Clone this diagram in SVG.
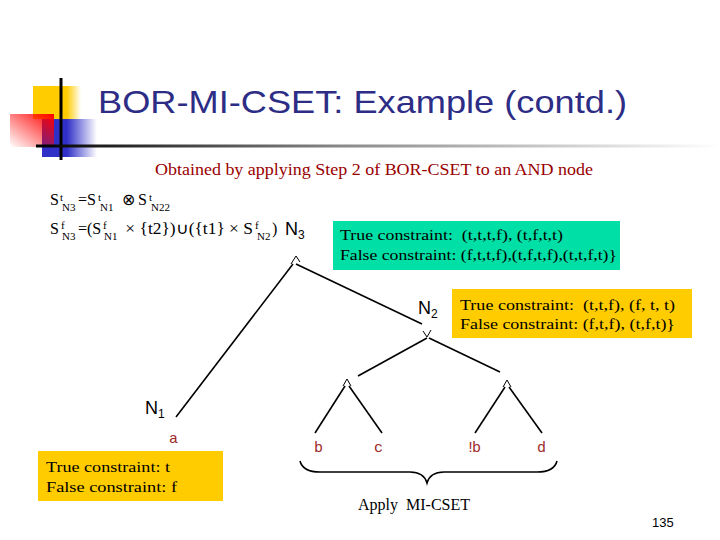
<svg xmlns="http://www.w3.org/2000/svg" width="720" height="540" viewBox="0 0 720 540">
<style>
.tm{font-family:"Liberation Serif","Times New Roman",serif;fill:#000}
.ar{font-family:"Liberation Sans",Arial,sans-serif;fill:#000}
.leaf{font-family:"Liberation Mono","Courier New",monospace;font-size:15px;fill:#9c2a2a}
.box{font-family:"Liberation Serif","Times New Roman",serif;font-size:15px;fill:#000}
.edge{stroke:#000;stroke-width:1.6;fill:none}
.caret{stroke:#000;stroke-width:1;fill:none}
</style>
<defs>
<linearGradient id="gy" x1="0" y1="0" x2="1" y2="0"><stop offset="0" stop-color="#ffcc00"/><stop offset="0.7" stop-color="#ffcc00"/><stop offset="1" stop-color="#ffcc00" stop-opacity="0"/></linearGradient>
<linearGradient id="gr" x1="1" y1="0" x2="0" y2="1"><stop offset="0" stop-color="#ff0000"/><stop offset="1" stop-color="#ff0000" stop-opacity="0"/></linearGradient>
<linearGradient id="gb" x1="0" y1="0" x2="1" y2="0"><stop offset="0" stop-color="#3030c8"/><stop offset="0.45" stop-color="#3030c8"/><stop offset="1" stop-color="#3030c8" stop-opacity="0"/></linearGradient>
<linearGradient id="gl" gradientUnits="userSpaceOnUse" x1="36" y1="0" x2="720" y2="0"><stop offset="0" stop-color="#000"/><stop offset="0.45" stop-color="#8a8a8a"/><stop offset="1" stop-color="#fff"/></linearGradient>
</defs>
<rect width="720" height="540" fill="#fff"/>
<g id="decoration">
<rect x="33" y="86" width="48" height="33" fill="url(#gy)"/>
<rect x="42" y="119" width="55" height="38" fill="url(#gb)"/>
<rect x="10" y="114" width="44" height="33" fill="url(#gr)"/>
<line x1="61" y1="78" x2="61" y2="160" stroke="#000" stroke-width="3"/>
<line x1="36" y1="146" x2="720" y2="146" stroke="url(#gl)" stroke-width="3"/>
</g>
<text x="98" y="113" font-family="'Liberation Sans',Arial,sans-serif" font-size="32" fill="#2d2d86" textLength="529" lengthAdjust="spacingAndGlyphs">BOR-MI-CSET: Example (contd.)</text>
<text x="155" y="175" class="tm" font-size="16" style="fill:#990000" textLength="438" lengthAdjust="spacingAndGlyphs">Obtained by applying Step 2 of BOR-CSET to an AND node</text>
<g id="formula1">
<text x="50" y="205" class="tm" font-size="16">S</text>
<text x="60" y="201" class="tm" font-size="11">t</text>
<text x="62" y="211" class="tm" font-size="11">N3</text>
<text x="78" y="205" class="tm" font-size="16">=S</text>
<text x="98" y="201" class="tm" font-size="11">t</text>
<text x="100" y="211" class="tm" font-size="11">N1</text>
<text x="122" y="205" class="tm" font-size="16">⊗</text>
<text x="138" y="205" class="tm" font-size="16">S</text>
<text x="149" y="201" class="tm" font-size="11">t</text>
<text x="151" y="211" class="tm" font-size="11">N22</text>
</g>
<g id="formula2">
<text x="50" y="234" class="tm" font-size="16">S</text>
<text x="61" y="229" class="tm" font-size="11">f</text>
<text x="62" y="240" class="tm" font-size="11">N3</text>
<text x="78" y="234" class="tm" font-size="16">=(S</text>
<text x="103" y="229" class="tm" font-size="11">f</text>
<text x="104" y="240" class="tm" font-size="11">N1</text>
<text x="121" y="234" class="tm" font-size="16" xml:space="preserve" textLength="132" lengthAdjust="spacingAndGlyphs"> × {t2})∪({t1} × S</text>
<text x="255" y="229" class="tm" font-size="11">f</text>
<text x="257" y="240" class="tm" font-size="11">N2</text>
<text x="272" y="234" class="tm" font-size="16">)</text>
</g>
<g id="connectors">
<line class="edge" x1="293" y1="264" x2="176" y2="417"/>
<line class="edge" x1="296" y1="264" x2="422" y2="324"/>
<line class="edge" x1="427" y1="338" x2="358" y2="376"/>
<line class="edge" x1="429" y1="338" x2="500" y2="372"/>
<line class="edge" x1="345" y1="386" x2="315" y2="433"/>
<line class="edge" x1="349" y1="386" x2="382" y2="433"/>
<line class="edge" x1="505" y1="387" x2="475" y2="433"/>
<line class="edge" x1="509" y1="387" x2="542" y2="433"/>
</g>
<g id="node-n3">
<polyline class="caret" points="291,264 296,256 300,262"/>
<text x="285" y="235" class="ar" font-size="18">N<tspan font-size="12" dy="4">3</tspan></text>
</g>
<g id="info-n3">
<rect x="333" y="221" width="287" height="49" fill="#00dfa5"/>
<text x="340" y="240" class="box" xml:space="preserve" textLength="223" lengthAdjust="spacingAndGlyphs">True constraint:  (t,t,t,f), (t,f,t,t)</text>
<text x="340" y="260" class="box" textLength="277" lengthAdjust="spacingAndGlyphs">False constraint: (f,t,t,f),(t,f,t,f),(t,t,f,t)}</text>
</g>
<g id="node-n2">
<polyline class="caret" points="423,331 427,337 431,330"/>
<text x="418" y="314" class="ar" font-size="18">N<tspan font-size="12" dy="4">2</tspan></text>
</g>
<g id="info-n2">
<rect x="452" y="289" width="240" height="49" fill="#ffcc00"/>
<text x="460" y="310" class="box" xml:space="preserve" textLength="215" lengthAdjust="spacingAndGlyphs">True constraint:  (t,t,f), (f, t, t)</text>
<text x="460" y="329" class="box" textLength="215" lengthAdjust="spacingAndGlyphs">False constraint: (f,t,f), (t,f,t)}</text>
</g>
<g id="node-and-left">
<polyline class="caret" points="343,386 347,379 351,386"/>
</g>
<g id="node-and-right">
<polyline class="caret" points="503,387 507,380 511,387"/>
</g>
<g id="node-n1">
<text x="145" y="414" class="ar" font-size="18">N<tspan font-size="12" dy="4">1</tspan></text>
<text x="169" y="443" class="leaf">a</text>
</g>
<g id="info-n1">
<rect x="38" y="451" width="185" height="50" fill="#ffcc00"/>
<text x="46" y="472" class="box" textLength="124" lengthAdjust="spacingAndGlyphs">True constraint: t</text>
<text x="46" y="492" class="box" textLength="131" lengthAdjust="spacingAndGlyphs">False constraint: f</text>
</g>
<g id="leaf-b"><text x="314" y="452" class="leaf">b</text></g>
<g id="leaf-c"><text x="374" y="452" class="leaf">c</text></g>
<g id="leaf-notb"><text x="466" y="452" class="leaf" letter-spacing="-3">!b</text></g>
<g id="leaf-d"><text x="537" y="452" class="leaf">d</text></g>
<g id="brace">
<path class="edge" d="M 300 461 C 302 469 310 472 320 472 L 410 472 C 420 472 425 476 427 483 C 429 476 434 472 444 472 L 537 472 C 547 472 555 469 557 461"/>
<text x="358" y="510" class="tm" font-size="16" xml:space="preserve">Apply  MI-CSET</text>
</g>
<text x="652" y="527" class="ar" font-size="13">135</text>
</svg>
